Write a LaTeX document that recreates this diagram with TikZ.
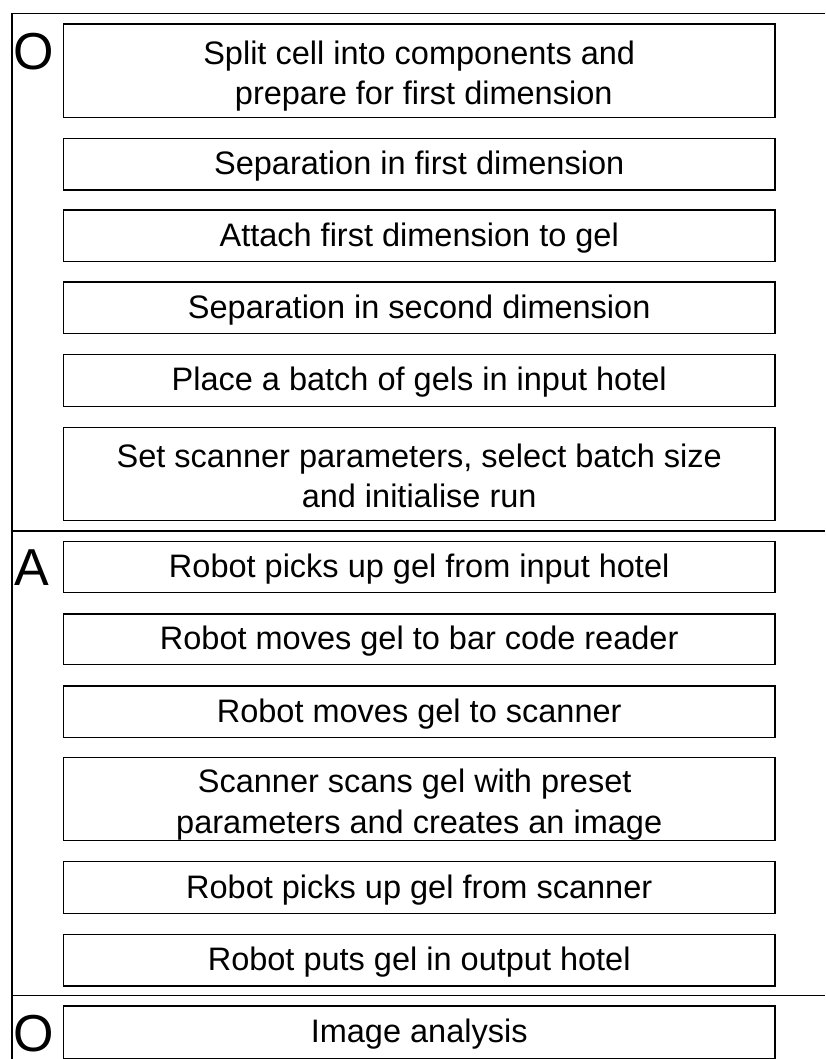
\documentclass[tikz,border=0pt]{standalone}
\usepackage{fontspec}
\setmainfont{Liberation Sans}
\newcommand\twolines[2]{\raisebox{-5.5pt}[\height][\depth]{\begin{tabular}{@{}c@{}}#1\\#2\end{tabular}}}
\begin{document}
\begin{tikzpicture}[x=1pt,y=-1pt,
  stepbox/.style={draw=black,line width=1.3pt,minimum width=711.7pt,inner sep=0pt,
    font=\fontsize{32.5}{40.6}\selectfont},
  onebox/.style={stepbox,minimum height=51.7pt,text height=27pt,text depth=5.8pt},
  twobox/.style={stepbox},
  phase/.style={inner sep=0pt,anchor=base west,font=\fontsize{52}{60}\selectfont},
  frameline/.style={draw=black,line width=1.5pt}]
\useasboundingbox (0,0) rectangle (825,1059);

% frame
\coordinate (tl) at (12,13.3);
\coordinate (tr) at (825,13.3);
\coordinate (bl) at (12,1059);
\coordinate (s1l) at (12,531);
\coordinate (s1r) at (825,531);
\coordinate (s2l) at (12,995.7);
\coordinate (s2r) at (825,995.7);
\draw[frameline] (tr) -- (tl) -- (bl);
\draw[frameline] (s1l) -- (s1r);
\draw[frameline] (s2l) -- (s2r);

% phase labels
\node[phase] (p1) at (13.5,69.4) {O};
\node[phase] (p2) at (14,585) {A};
\node[phase] (p3) at (13.5,1051) {O};

% steps
\node[twobox,minimum height=93.3pt] (b1) at (419.2,70.7)
  {\twolines{Split cell into components and}{\ prepare for first dimension}};
\node[onebox] (b2) at (419.2,164.2) {Separation in first dimension};
\node[onebox] (b3) at (419.2,235.9) {Attach first dimension to gel};
\node[onebox] (b4) at (419.2,307.9) {Separation in second dimension};
\node[onebox] (b5) at (419.2,380.3) {Place a batch of gels in input hotel};
\node[twobox,minimum height=92.6pt] (b6) at (419.2,474)
  {\twolines{Set scanner parameters, select batch size}{and initialise run}};
\node[onebox,minimum height=50.6pt] (b7) at (419.2,567) {Robot picks up gel from input hotel};
\node[onebox,minimum height=50.3pt] (b8) at (419.2,639.2) {Robot moves gel to bar code reader};
\node[onebox] (b9) at (419.2,711.9) {Robot moves gel to scanner};
\node[twobox,minimum height=83pt] (b10) at (419.2,799.2)
  {\twolines{Scanner scans gel with preset\hspace*{9pt}}{parameters and creates an image}};
\node[onebox] (b11) at (419.2,887.5) {Robot picks up gel from scanner};
\node[onebox] (b12) at (419.2,960.2) {Robot puts gel in output hotel};
\node[onebox,minimum height=52.3pt] (b13) at (419.2,1032.2) {Image analysis};
\end{tikzpicture}
\end{document}
